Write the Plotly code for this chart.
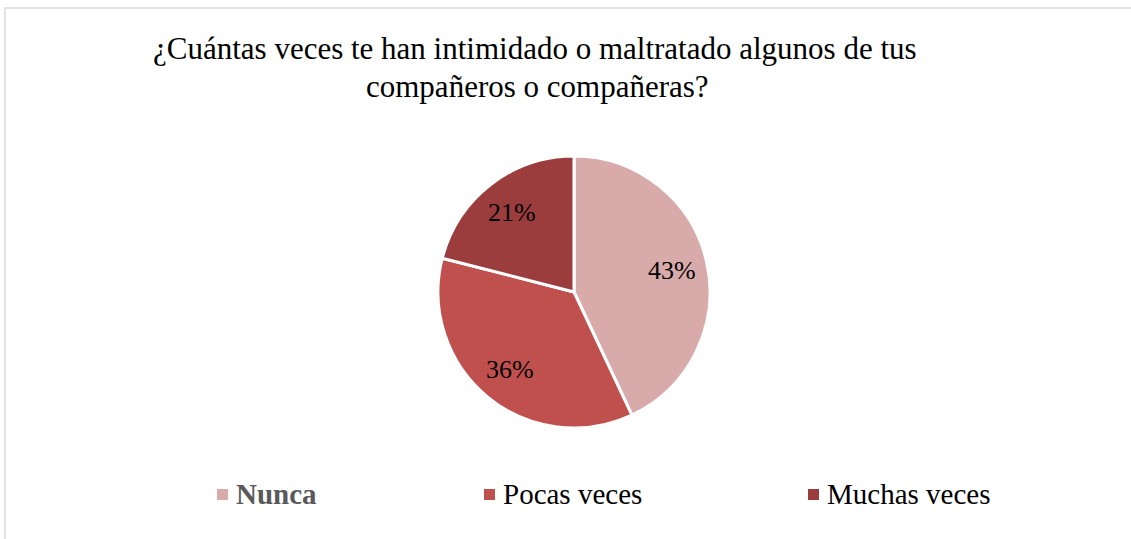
import math
import plotly.graph_objects as go

categories = ["Nunca", "Pocas veces", "Muchas veces"]
values = [43, 36, 21]
colors = ["#D9AAAA", "#C0504E", "#9B3D3C"]
title_lines = ["¿Cuántas veces te han intimidado o maltratado algunos de tus",
               "compañeros o compañeras?"]

W, H = 1131, 539
cx, cy, R = 574, 292, 136  # pie centre / radius in pixels (layout)

fig = go.Figure()
fig.add_trace(go.Pie(
    labels=categories, values=values,
    marker=dict(colors=colors, line=dict(color="white", width=3)),
    sort=False, direction="clockwise", rotation=0,
    textinfo="none",
    domain=dict(x=[(cx - R) / W, (cx + R) / W], y=[(H - cy - R) / H, (H - cy + R) / H]),
    showlegend=False,
))

# percent labels placed like Excel's best fit (further out than plotly's default)
total = sum(values)
cum = 0
for v in values:
    mid = (cum + v / 2) / total * 2 * math.pi
    cum += v
    d = 0.74 * R
    px = cx + d * math.sin(mid)
    py = cy - d * math.cos(mid)
    fig.add_annotation(text=f"{round(v / total * 100)}%", x=px / W, y=1 - py / H,
                       xref="paper", yref="paper", showarrow=False,
                       xanchor="center", yanchor="middle",
                       font=dict(family="Liberation Serif", size=26, color="black"))

# title
fig.add_annotation(text=title_lines[0], x=535 / W, y=1 - 48 / H, xref="paper", yref="paper",
                   showarrow=False, xanchor="center", yanchor="middle",
                   font=dict(family="Liberation Serif", size=31, color="black"))
fig.add_annotation(text=title_lines[1], x=537 / W, y=1 - 86 / H, xref="paper", yref="paper",
                   showarrow=False, xanchor="center", yanchor="middle",
                   font=dict(family="Liberation Serif", size=31, color="black"))

# legend (manual to match spacing)
leg_x = [217, 484, 808]
leg_y = 494
for i, (cat, col) in enumerate(zip(categories, colors)):
    x = leg_x[i]
    fig.add_shape(type="rect", xref="paper", yref="paper",
                  x0=x / W, x1=(x + 11) / W, y0=1 - (leg_y + 6) / H, y1=1 - (leg_y - 5) / H,
                  fillcolor=col, line=dict(width=0))
    txt = f"<b>{cat}</b>" if i == 0 else cat
    fcol = "#595959" if i == 0 else "black"
    fig.add_annotation(text=txt, x=(x + 17) / W, y=1 - leg_y / H, xref="paper", yref="paper",
                       showarrow=False, xanchor="left", yanchor="middle",
                       font=dict(family="Liberation Serif", size=29, color=fcol))

# chart border
fig.add_shape(type="rect", xref="paper", yref="paper",
              x0=5 / W, x1=1.02, y0=-0.05, y1=1 - 8 / H,
              line=dict(color="#D9D9D9", width=1.5), fillcolor="rgba(0,0,0,0)")

fig.update_layout(width=W, height=H, margin=dict(l=0, r=0, t=0, b=0),
                  paper_bgcolor="white", plot_bgcolor="white")
fig.write_html("out.html", config={"displayModeBar": False},
               post_script="document.body.style.margin='0';document.body.style.overflow='hidden';")
